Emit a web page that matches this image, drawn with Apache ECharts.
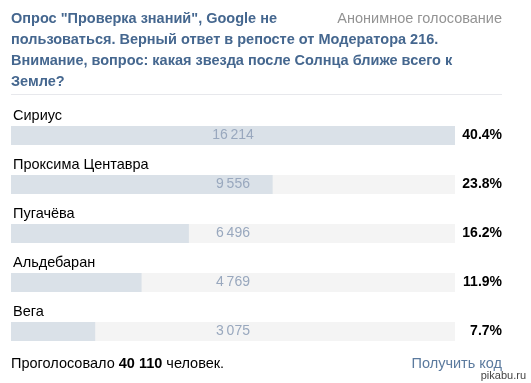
<!DOCTYPE html>
<html><head><meta charset="utf-8">
<script src="https://cdn.jsdelivr.net/npm/echarts@6/dist/echarts.min.js"></script>
<style>html,body{margin:0;padding:0;background:#fff}#c{width:531px;height:383px}</style>
</head><body><div id="c"></div>
<script>
const categories = ['Сириус', 'Проксима Центавра', 'Пугачёва', 'Альдебаран', 'Вега'];
const votes = [16214, 9556, 6496, 4769, 3075];
const titleLines = ['Опрос "Проверка знаний", Google не', 'пользоваться. Верный ответ в репосте от Модератора 216.', 'Внимание, вопрос: какая звезда после Солнца ближе всего к', 'Земле?'];

const total = votes.reduce((a, b) => a + b, 0);
const maxV = Math.max(...votes);
const fmt = n => String(n).replace(/\B(?=(\d{3})+(?!\d))/g, '\u2009');
const pct = votes.map(v => (v / total * 100).toFixed(1) + '%');
const FONT = '"Liberation Sans", Arial, sans-serif';

const chart = echarts.init(document.getElementById('c'), null, {renderer: 'canvas'});
chart.setOption({
  animation: false,
  title: [
    {text: titleLines.join('\n'), left: 11, top: 8, padding: 0,
     textStyle: {fontFamily: FONT, fontSize: 14.5, fontWeight: 'bold', color: '#45678f', lineHeight: 21}},
    {text: 'Анонимное голосование', right: 29, top: 11, padding: 0,
     textStyle: {fontFamily: FONT, fontSize: 14.5, fontWeight: 'normal', color: '#939393', lineHeight: 16}},
    {text: 'Проголосовало {b|' + fmt(total).replace('\u2009', ' ') + '} человек.', left: 11, top: 356, padding: 0,
     textStyle: {fontFamily: FONT, fontSize: 14.5, fontWeight: 'normal', color: '#000', lineHeight: 16,
       rich: {b: {fontFamily: FONT, fontSize: 14.5, fontWeight: 'bold', color: '#000'}}}},
    {text: 'Получить код', right: 29, top: 356, padding: 0,
     textStyle: {fontFamily: FONT, fontSize: 14.5, fontWeight: 'normal', color: '#5b7a9e', lineHeight: 16}},
    {text: 'pikabu.ru', right: 3, top: 370, padding: [0, 2, 0, 2], backgroundColor: '#fff',
     textStyle: {fontFamily: FONT, fontSize: 11, fontWeight: 'normal', color: '#444', lineHeight: 12}}
  ],
  graphic: [{type: 'rect', left: 11, top: 94, shape: {width: 491, height: 1}, style: {fill: '#e7e8ec'}}],
  grid: {left: 11, right: 76, top: 111, height: 245},
  xAxis: {type: 'value', min: 0, max: maxV, show: false},
  yAxis: [
    {type: 'category', data: categories, inverse: true,
     axisLine: {show: false}, axisTick: {show: false},
     axisLabel: {inside: true, margin: 0, verticalAlign: 'bottom', padding: [0, 0, 12, 2],
       fontFamily: FONT, fontSize: 14.5, color: '#000'}},
    {type: 'category', data: pct, inverse: true, position: 'right',
     axisLine: {show: false}, axisTick: {show: false},
     axisLabel: {align: 'right', margin: 47, fontFamily: FONT, fontSize: 14, fontWeight: 'bold', color: '#000'}}
  ],
  series: [
    {type: 'bar', data: votes, barWidth: 19, yAxisIndex: 0,
     showBackground: true, backgroundStyle: {color: '#f4f4f4'},
     itemStyle: {color: '#dae1e8'}, silent: true},
    {type: 'bar', data: votes.map(() => maxV), barWidth: 19, barGap: '-100%', yAxisIndex: 0, z: 5,
     itemStyle: {color: 'rgba(0,0,0,0)'}, silent: true,
     label: {show: true, position: 'inside', formatter: p => fmt(votes[p.dataIndex]),
       fontFamily: FONT, fontSize: 14, color: '#99a8be'}}
  ]
});
</script></body></html>
